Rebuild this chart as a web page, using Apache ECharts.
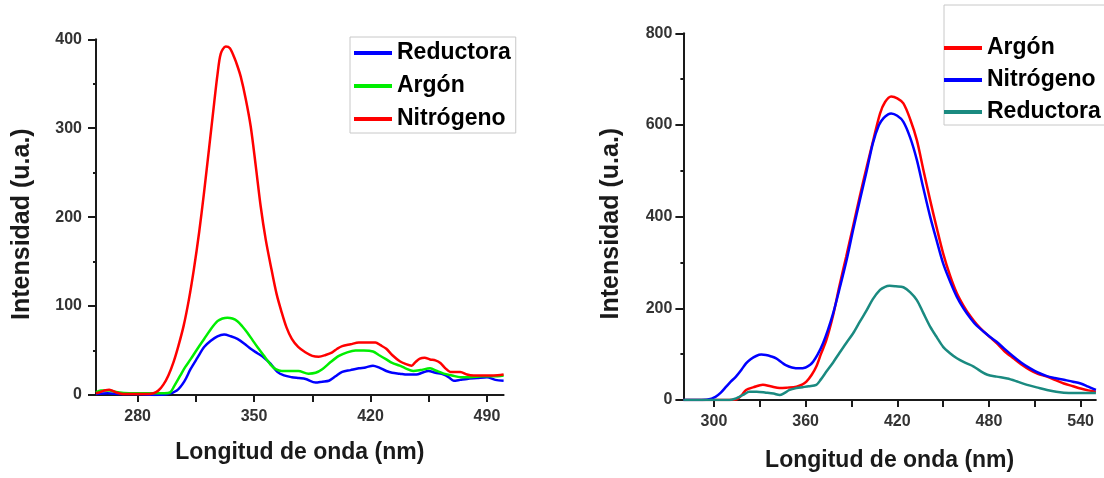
<!DOCTYPE html>
<html>
<head>
<meta charset="utf-8">
<script src="https://cdn.jsdelivr.net/npm/echarts@6/dist/echarts.min.js"></script>
<style>
html,body{margin:0;padding:0;background:#fff;}
#chart{width:1104px;height:478px;}
</style>
</head>
<body>
<div id="chart"></div>
<script>
// ---------- Left panel data ----------
const leftXTicks = [280, 350, 420, 490];
const leftXAllTicks = [280, 315, 350, 385, 420, 455, 490];
const leftNames = ['Reductora', 'Argón', 'Nitrógeno'];

const leftRedX = [255,262,270,280,290,298,303.6,308,311.8,316,320,324,328,332,336,340,344,348,352,356,360,364,368,372.7,377,381,387,391,395,399,403,408,413,417,421.5,425,429.5,433,437.6,442,447.7,451,454.8,459,464,467,470,474,478,484,490,495,500];
const leftRedY = [1,2,1,1,0,1,5,15,29,42,54,61,66,68,66,63,58,52,47,42,35,26,22,20,19,18,14,15,16,21,26,28,30,31,33,31,27,25,24,23,23,25,27,25,23,20,16,17,18,19,20,17,16];

const leftArgX = [255,258,263,268,275,282,290,296,299.6,302,305.7,308.5,311.8,316,320,324,328,331,334,337,340,343,346,349,352,356,360.5,363,366.6,371,376.6,382.7,387,391,396,401,406,411,416,421.5,425,429.5,433,437.6,441,445.7,450,455.8,460,464,469,474,480,487,494,500];
const leftArgY = [3,5,5,3,2,2,2,2,3,10,22,31,40,52,63,74,83,86,87,86,83,77,70,62,54,44,33,29,27,27,27,24,25,29,37,44,48,50,50,49,45,40,36,33,30,27,28,30,27,24,22,20,20,21,21,22];

const leftNitX = [255,257,260,263,267,272,279,285,289.5,292.5,295.6,298.5,301.6,304.5,307.7,310.8,313.8,317,319.9,323,326,328,330,333,335.5,338,340,342,345,348,351,354,357,360.5,363.5,366.6,369.5,372.7,376.5,380.8,385,388.9,393,397,400,403,408,413,418,423,426,429.5,433,437.6,441,444.7,447,449.7,452.5,455.8,459,462,465,468,471,474,478,482,488,494,500];
const leftNitY = [2,3,5,6,3,1,1,1,2,5,12,22,37,55,78,107,141,183,227,278,328,360,384,392,390,380,370,358,333,302,258,212,175,141,114,93,76,63,54,48,44,43,45,48,52,55,57,59,59,59,56,52,45,38,35,33,37,41,42,40,39,36,30,26,26,26,23,22,22,22,23];

// ---------- Right panel data ----------
const rightXTicks = [300, 360, 420, 480, 540];
const rightXAllTicks = [300, 330, 360, 390, 420, 450, 480, 510, 540];
const rightNames = ['Argón', 'Nitrógeno', 'Reductora'];

const rightArgX = [280,290,300,308,314.4,318,321,326,332,337,343,348,354,358,360.5,364,367,370,373.6,378,382,386.5,391,395.5,400,404.5,408.7,412,416,420,424,428.5,432.8,437,441.5,446,450,454.5,459,463.5,468,472,476.6,481,485,490,496,501,507,512,518,523,529,535,540,545,550];
const rightArgY = [0,0,0,0,1,10,22,28,33,30,26,27,29,34,40,55,73,100,131,185,247,312,378,445,509,570,625,650,662,658,647,612,567,503,436,373,320,272,233,205,182,165,149,136,124,107,91,78,65,57,51,44,36,30,25,21,18];

const rightNitX = [280,290,296,301,304.5,308,311,314.4,318,321,324,327.6,331,334,337.5,340.7,344,347,351,356,360,363,365,368,371.4,374.5,378,382,386.8,391,395.5,400,404,408,411,414,416,420,424,428.5,432.8,437,441.5,446,450,454.5,459,463.5,468,472,476.6,481,485,490,496,501,507,512,518,523,529,535,540,545,550];
const rightNitY = [0,0,1,7,16,29,40,51,66,80,89,96,99,98,95,91,83,76,71,69,71,77,84,100,124,152,189,240,305,370,436,500,560,600,615,623,625,620,607,572,524,463,400,345,298,259,225,199,178,162,149,137,127,112,95,82,69,60,52,48,44,40,36,29,22];

const rightRedX = [280,300,310,314,316.6,320,323,328,334,339,343,346,349.5,354,358,362,367,370,373.6,378,382,386.5,391,395.5,400,404,408.7,412,415,419,424,428.5,432.8,437,441.5,446,450,454.5,459,464,470,474,479,485,492,498,505,512,518,524,529,535,540,550];
const rightRedY = [0,0,0,3,7,13,18,18,16,14,11,15,22,26,28,30,33,45,62,82,102,124,145,171,196,220,240,247,249,248,246,235,218,190,160,136,116,102,91,82,73,64,55,51,47,41,33,27,22,18,16,15,15,15];

function pairs(xs, ys){ return xs.map((x,i)=>[x, ys[i]]); }

const FONT = 'Liberation Sans, Arial, sans-serif';
const labelStyle = {fontFamily: FONT, fontSize: 16, fontWeight: 'bold', color: '#333'};
const nameStyle = {fontFamily: FONT, fontSize: 23, fontWeight: 'bold', color: '#1a1a1a'};
const axisLine = {show: true, lineStyle: {color: '#1a1a1a', width: 2}};

function mainX(grid, min, max, labels, ticks, gap){
  return {
    type: 'value', gridIndex: grid, min: min, max: max,
    name: 'Longitud de onda (nm)', nameLocation: 'middle', nameGap: gap,
    nameTextStyle: nameStyle,
    axisLine: axisLine, splitLine: {show: false},
    axisTick: {show: true, length: 7, lineStyle: {color: '#1a1a1a', width: 2}, customValues: ticks},
    axisLabel: Object.assign({margin: 14, customValues: labels}, labelStyle)
  };
}
function mainY(grid, max, interval, gap, margin){
  return {
    type: 'value', gridIndex: grid, min: 0, max: max, interval: interval,
    name: 'Intensidad (u.a.)', nameLocation: 'middle', nameGap: gap,
    nameTextStyle: Object.assign({}, nameStyle, {fontSize: 25, padding: [0, 14, 0, 0]}),
    axisLine: axisLine, splitLine: {show: false},
    axisTick: {show: true, length: 8, lineStyle: {color: '#1a1a1a', width: 2}},
    minorTick: {show: true, splitNumber: 2, length: 3, lineStyle: {color: '#1a1a1a', width: 2}},
    axisLabel: Object.assign({margin: margin}, labelStyle)
  };
}
function legendCfg(left, top, names, padding, itemWidth, gap){
  return {
    left: left, top: top, orient: 'vertical', data: names,
    icon: 'rect', itemWidth: itemWidth, itemHeight: 4, itemGap: gap,
    padding: padding, backgroundColor: '#fff',
    borderColor: '#c8c8c8', borderWidth: 1,
    selectedMode: false,
    formatter: n => n.trim(),
    textStyle: {fontFamily: FONT, fontSize: 23, fontWeight: 'bold', color: '#000', lineHeight: 24}
  };
}
function line(name, xi, yi, data, color){
  return {
    type: 'line', name: name, xAxisIndex: xi, yAxisIndex: yi, data: data,
    showSymbol: false, symbol: 'none', smooth: 0.3,
    lineStyle: {color: color, width: 2.5}, itemStyle: {color: color}
  };
}

const chart = echarts.init(document.getElementById('chart'), null, {renderer: 'canvas'});
chart.setOption({
  animation: false,
  backgroundColor: '#fff',
  grid: [
    {left: 96, top: 39.3, width: 407.6, height: 355.7},
    {left: 683.4, top: 33.3, width: 412.5, height: 366.7}
  ],
  xAxis: [
    mainX(0, 255, 500, leftXTicks, leftXAllTicks, 46),
    mainX(1, 280, 550, rightXTicks, rightXAllTicks, 49)
  ],
  yAxis: [
    mainY(0, 400, 100, 61, 14),
    mainY(1, 800, 200, 60, 11)
  ],
  legend: [
    legendCfg(350, 37, leftNames, [4, 5, 2, 4], 38, 9),
    legendCfg(944, 5, rightNames.map(n => n + ' '), [31, 12, 1, 0], 38, 8)
  ],
  series: [
    line(leftNames[0], 0, 0, pairs(leftRedX, leftRedY), '#0000ff'),
    line(leftNames[1], 0, 0, pairs(leftArgX, leftArgY), '#00ee00'),
    line(leftNames[2], 0, 0, pairs(leftNitX, leftNitY), '#ff0000'),
    line(rightNames[0] + ' ', 1, 1, pairs(rightArgX, rightArgY), '#ff0000'),
    line(rightNames[1] + ' ', 1, 1, pairs(rightNitX, rightNitY), '#0000ff'),
    line(rightNames[2] + ' ', 1, 1, pairs(rightRedX, rightRedY), '#1a8a80')
  ]
});
</script>
</body>
</html>
